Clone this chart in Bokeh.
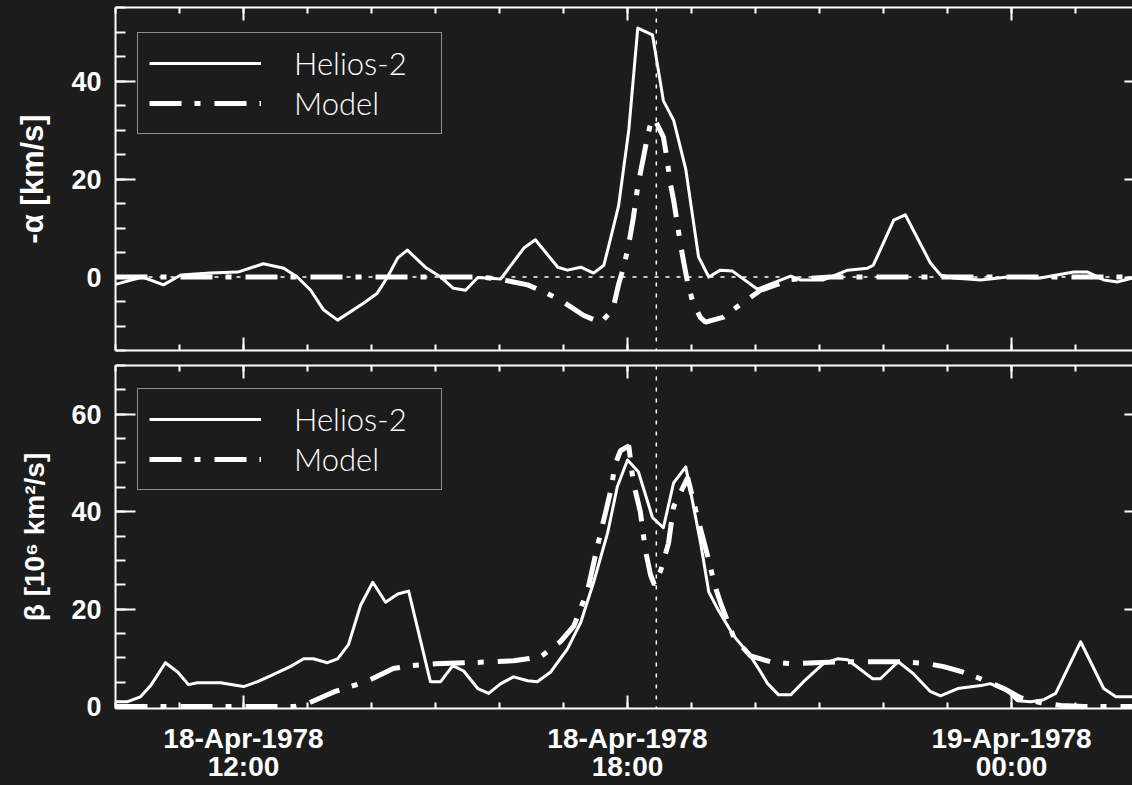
from bokeh.plotting import figure
from bokeh.models import (Range1d, LinearAxis, FixedTicker, Span, Legend, LegendItem)
from bokeh.layouts import column
from bokeh.embed import file_html
from bokeh.resources import INLINE

# ---- data (time in hours since 18-Apr-1978 00:00 UT) ----
alpha_obs_t = [10.00, 10.42, 10.75, 11.02, 11.48, 11.91, 12.31, 12.63, 12.84, 13.05, 13.25, 13.47,
               13.88, 14.09, 14.25, 14.41, 14.56, 14.84, 15.08, 15.28, 15.47, 15.66, 16.02, 16.38,
               16.56, 16.91, 17.06, 17.27, 17.47, 17.63, 17.73, 17.86, 18.02, 18.16, 18.39, 18.56,
               18.72, 18.91, 19.11, 19.27, 19.45, 19.64, 20.03, 20.55, 20.70, 21.06, 21.44, 21.75,
               21.84, 22.16, 22.34, 22.73, 22.89, 23.09, 23.52, 23.94, 24.45, 24.97, 25.19, 25.44,
               25.66, 25.89]
alpha_obs = [-1.5, 0.0, -1.6, 0.4, 0.8, 1.0, 2.7, 1.8, 0.0, -2.7, -6.7, -8.8,
             -5.3, -3.3, 0.0, 3.9, 5.5, 2.0, 0.0, -2.3, -2.7, -0.1, -0.4, 5.9,
             7.6, 2.0, 1.4, 2.0, 0.8, 2.4, 7.6, 14.5, 30.0, 50.8, 49.4, 36.0,
             32.0, 22.0, 4.1, 0.0, 1.4, 1.2, -2.5, 0.2, -0.6, -0.6, 1.4, 1.8,
             2.4, 11.6, 12.7, 2.9, 0.4, -0.2, -0.6, 0.0, -0.2, 1.0, 1.0, -0.6,
             -1.0, -0.2]

alpha_mod_t = [10.00, 15.70, 16.02, 16.44, 16.69, 16.95, 17.31, 17.58, 17.77, 17.86, 17.95, 18.03,
               18.09, 18.16, 18.25, 18.31, 18.38, 18.45, 18.56, 18.61, 18.67, 18.72, 18.77, 18.83,
               18.88, 18.94, 19.02, 19.14, 19.22, 19.50, 19.77, 20.08, 20.55, 21.17, 25.89]
alpha_mod = [0.0, 0.0, -0.5, -1.6, -3.0, -4.7, -7.8, -9.3, -6.7, -1.5, 2.5, 7.5,
             12.0, 18.5, 24.5, 28.5, 32.4, 31.5, 28.6, 24.7, 19.0, 15.7, 11.6, 6.5,
             2.9, -1.2, -5.1, -8.3, -9.2, -8.2, -5.5, -2.7, -0.5, 0.0, 0.0]

beta_obs_t = [10.00, 10.19, 10.39, 10.55, 10.78, 10.97, 11.14, 11.28, 11.64, 12.00, 12.22, 12.42,
              12.73, 12.94, 13.09, 13.31, 13.47, 13.64, 13.83, 14.02, 14.22, 14.41, 14.58, 14.92,
              15.08, 15.27, 15.44, 15.66, 15.83, 16.02, 16.22, 16.44, 16.59, 16.80, 17.06, 17.27,
              17.47, 17.69, 17.84, 18.00, 18.17, 18.39, 18.56, 18.72, 18.91, 19.14, 19.27, 19.41,
              19.66, 19.92, 20.08, 20.19, 20.36, 20.55, 20.75, 21.06, 21.28, 21.44, 21.83, 21.95,
              22.23, 22.47, 22.73, 22.89, 23.16, 23.52, 23.67, 23.94, 24.09, 24.30, 24.50, 24.69,
              25.08, 25.44, 25.63, 25.89]
beta_obs = [1.0, 1.0, 2.0, 4.3, 9.0, 7.1, 4.5, 4.9, 4.9, 4.1, 5.1, 6.3,
            8.2, 9.8, 9.8, 9.0, 9.8, 12.7, 20.8, 25.5, 21.4, 23.1, 23.7, 5.1,
            5.1, 8.4, 7.3, 3.7, 2.7, 4.7, 6.1, 5.3, 5.1, 7.1, 11.8, 17.3,
            25.5, 35.7, 45.1, 50.6, 48.2, 38.8, 36.7, 45.9, 49.2, 33.7, 23.5, 20.0,
            14.5, 10.4, 7.1, 4.7, 2.4, 2.4, 5.1, 8.8, 9.8, 9.6, 5.7, 5.7,
            9.2, 6.7, 3.1, 2.2, 3.7, 4.3, 4.7, 3.1, 1.2, 1.0, 1.4, 2.7,
            13.3, 3.7, 2.0, 2.0]

beta_mod_t = [10.00, 12.81, 13.00, 13.41, 13.67, 13.95, 14.34, 14.61, 15.00, 15.55, 16.22, 16.64,
              16.95, 17.16, 17.38, 17.53, 17.66, 17.75, 17.80, 17.89, 18.02, 18.09, 18.20, 18.28,
              18.36, 18.42, 18.52, 18.64, 18.72, 18.83, 18.94, 19.09, 19.19, 19.27, 19.36, 19.45,
              19.66, 19.92, 20.23, 20.55, 21.33, 22.27, 22.69, 22.94, 23.23, 23.52, 23.88, 24.14,
              24.45, 24.77, 25.13, 25.89]
beta_mod = [0.0, 0.0, 0.6, 3.0, 4.1, 5.3, 7.8, 8.4, 8.8, 9.0, 9.4, 10.2,
            13.3, 16.5, 24.0, 32.9, 40.0, 45.0, 49.5, 52.5, 53.5, 46.0, 40.0, 32.0,
            27.0, 25.0, 28.0, 33.5, 41.0, 44.0, 47.0, 39.0, 34.0, 30.0, 25.0, 21.4,
            14.2, 10.4, 9.2, 8.8, 9.2, 9.2, 8.8, 8.2, 7.1, 5.7, 3.7, 1.8,
            0.8, 0.2, 0.0, 0.0]

event_time = 18.45          # vertical dotted marker
x_start, x_end = 10.0, 25.89
x_major = [12, 18, 24]
x_labels = ["18-Apr-1978\n12:00", "18-Apr-1978\n18:00", "19-Apr-1978\n00:00"]
x_minor = list(range(10, 27))
alpha_range = (-15, 55)
alpha_major = [0, 20, 40]
alpha_minor = list(range(-15, 56, 5))
beta_range = (-0.4, 70)
beta_major = [0, 20, 40, 60]
beta_minor = list(range(0, 71, 5))

BG = "#1c1c1c"
FG = "#ffffff"
BOLD = "Liberation Sans"
LEG_FONT = "Lato Light"
DASHDOT = "32 13 6 14"

xr = Range1d(x_start, x_end)


def style_axis(ax, major_in, minor_in):
    ax.axis_line_color = FG
    ax.axis_line_width = 2
    ax.major_tick_line_color = FG
    ax.major_tick_line_width = 2
    ax.minor_tick_line_color = FG
    ax.minor_tick_line_width = 2
    ax.major_tick_in = major_in
    ax.major_tick_out = 0
    ax.minor_tick_in = minor_in
    ax.minor_tick_out = 0


def hide_labels(ax, ticks):
    ax.major_label_overrides = {t: "" for t in ticks}
    ax.major_label_text_font_size = "0px"
    ax.major_label_standoff = 0


def make_panel(height, yr, ymajor, yminor, ylabel, ylabel_size, btop, bbottom, show_x_labels):
    p = figure(width=1132, height=height, x_range=xr, y_range=Range1d(*yr),
               output_backend="svg", toolbar_location=None,
               x_axis_location=None, y_axis_location=None,
               min_border_left=115, min_border_right=0,
               min_border_top=btop, min_border_bottom=bbottom,
               background_fill_color=BG, border_fill_color=BG,
               outline_line_color=None)
    p.xgrid.visible = False
    p.ygrid.visible = False

    # left axis
    yl = LinearAxis(ticker=FixedTicker(ticks=ymajor, minor_ticks=yminor))
    style_axis(yl, 20, 10)
    yl.axis_label = ylabel
    yl.axis_label_text_font = BOLD
    yl.axis_label_text_font_style = "bold"
    yl.axis_label_text_font_size = ylabel_size
    yl.axis_label_text_color = FG
    yl.axis_label_standoff = 18
    yl.major_label_text_font = BOLD
    yl.major_label_text_font_style = "bold"
    yl.major_label_text_font_size = "27px"
    yl.major_label_text_color = FG
    yl.major_label_standoff = 14
    p.add_layout(yl, "left")

    # right axis (ticks only)
    yr_ax = LinearAxis(ticker=FixedTicker(ticks=ymajor, minor_ticks=[]))
    style_axis(yr_ax, 8, 0)
    yr_ax.axis_line_color = None
    hide_labels(yr_ax, ymajor)
    p.add_layout(yr_ax, "right")

    # top axis (ticks only)
    xt = LinearAxis(ticker=FixedTicker(ticks=x_major, minor_ticks=x_minor))
    style_axis(xt, 13, 6)
    hide_labels(xt, x_major)
    p.add_layout(xt, "above")

    # bottom axis
    xb = LinearAxis(ticker=FixedTicker(ticks=x_major, minor_ticks=x_minor))
    style_axis(xb, 13, 6)
    if show_x_labels:
        xb.major_label_overrides = dict(zip(x_major, x_labels))
        xb.major_label_text_font = BOLD
        xb.major_label_text_font_style = "bold"
        xb.major_label_text_font_size = "28px"
        xb.major_label_text_color = FG
        xb.major_label_text_line_height = 0.92
        xb.major_label_standoff = 14
    else:
        hide_labels(xb, x_major)
    p.add_layout(xb, "below")

    p.add_layout(Span(location=event_time, dimension="height", line_color=FG,
                      line_width=1.5, line_dash="4 7"))
    return p


p1 = make_panel(357, alpha_range, alpha_major, alpha_minor, "-α [km/s]", "31px", 7, 7, False)
p1.add_layout(Span(location=0, dimension="width", line_color=FG, line_width=1.5, line_dash="4 7"))
r1o = p1.line(alpha_obs_t, alpha_obs, line_color=FG, line_width=3, line_join="round")
r1m = p1.line(alpha_mod_t, alpha_mod, line_color=FG, line_width=5, line_dash=DASHDOT)

p2 = make_panel(428, beta_range, beta_major, beta_minor, "β [10⁶ km²/s]", "28px", 8, 60, True)
r2o = p2.line(beta_obs_t, beta_obs, line_color=FG, line_width=3, line_join="round")
r2m = p2.line(beta_mod_t, beta_mod, line_color=FG, line_width=5, line_dash=DASHDOT)


def add_legend(p, ro, rm, loc):
    lg = Legend(items=[LegendItem(label="Helios-2", renderers=[ro]),
                       LegendItem(label="Model", renderers=[rm])],
                location=loc, orientation="vertical",
                label_text_color=FG, label_text_font=LEG_FONT, label_text_font_size="31px",
                glyph_width=112, glyph_height=34, label_standoff=33, label_width=136,
                spacing=2, padding=11,
                border_line_color=FG, border_line_width=1.2,
                background_fill_color=BG, background_fill_alpha=1.0)
    p.add_layout(lg)


add_legend(p1, r1o, r1m, (22, 216))
add_legend(p2, r2o, r2m, (22, 218))

layout = column(p1, p2, spacing=0)
layout.styles = {"background-color": BG}

with open("out.html", "w") as f:
    f.write(file_html(layout, INLINE))
